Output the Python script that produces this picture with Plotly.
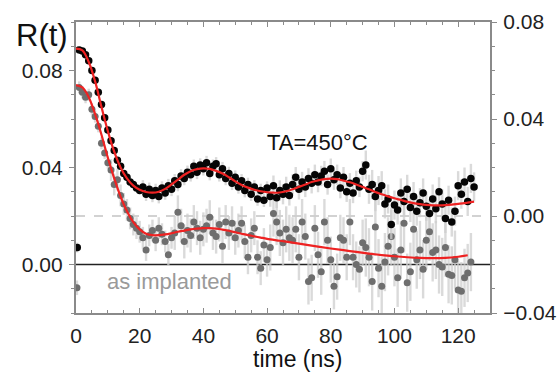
import plotly.graph_objects as go

# ---- data ----
# TA=450°C series (right axis), first point is the stray point at t~0
black_r = [-0.013, 0.0685, 0.068, 0.0665, 0.064, 0.060, 0.056, 0.051, 0.046, 0.0405, 0.0355,
           0.031, 0.027, 0.023, 0.0205, 0.0175, 0.016, 0.014, 0.013, 0.0115, 0.0105,
           0.012, 0.009, 0.011, 0.0085, 0.0105, 0.008, 0.0115, 0.0095, 0.0125, 0.011,
           0.0145, 0.013, 0.0165, 0.0155, 0.018, 0.017, 0.0205, 0.018, 0.021, 0.0195,
           0.022, 0.0175, 0.0205, 0.0215, 0.017, 0.0195, 0.0155, 0.0175, 0.0135, 0.016,
           0.012, 0.0145, 0.0105, 0.013, 0.009, 0.012, 0.007, 0.0105, 0.0065, 0.0115,
           0.008, 0.0125, 0.0075, 0.0105, 0.009, 0.012, 0.0085, 0.013, 0.016, 0.011,
           0.014, 0.012, 0.0155, 0.0135, 0.017, 0.014, 0.0165, 0.0185, 0.013, 0.0195,
           0.015, 0.017, 0.0115, 0.016, 0.010, 0.0135, 0.0095, 0.0145, 0.012, 0.0185,
           0.021, 0.011, 0.013, 0.008, 0.0105, 0.0125, 0.005, 0.007, -0.0035, 0.0045,
           0.0025, 0.0095, 0.006, 0.011, 0.0035, 0.008, 0.002, 0.0055, 0.0095, 0.004,
           0.001, 0.007, 0.003, 0.010, 0.005, -0.001, 0.0065, -0.0025, 0.002, 0.0125,
           0.009, 0.014, 0.006, 0.0155, 0.012]
black_t = [0.4] + list(range(1, len(black_r)))

# as implanted series (left axis)
gray_l = [-0.0096, 0.073, 0.071, 0.069, 0.070, 0.064, 0.061, 0.057, 0.050, 0.046, 0.042,
          0.039, 0.033, 0.035, 0.0285, 0.025, 0.0225, 0.019, 0.0165, 0.015, 0.0135,
          0.011, 0.006, 0.012, 0.014, 0.010, 0.015, 0.0125, 0.0095, 0.004, 0.011,
          0.013, 0.0215, 0.016, 0.0095, 0.014, 0.012, 0.0175, 0.015, 0.011, 0.0145,
          0.016, 0.0195, 0.013, 0.0115, 0.0165, 0.0075, 0.0175, 0.013, 0.017, 0.011,
          0.014, 0.017, 0.0095, 0.003, 0.012, 0.015, 0.003, -0.0015, 0.008, 0.002,
          0.007, 0.021, 0.0175, 0.013, 0.009, 0.0145, 0.011, 0.010, 0.0145, 0.003,
          0.0175, 0.0115, -0.007, -0.0055, 0.015, 0.004, -0.003, 0.0175, 0.010, 0.002,
          -0.009, -0.005, 0.011, 0.010, 0.003, 0.0175, 0.003, 0.000, -0.002, 0.009,
          0.007, 0.003, -0.007, 0.0155, -0.0015, -0.009, 0.001, 0.0075, 0.0115, 0.003,
          -0.0055, 0.006, 0.017, -0.0075, -0.003, 0.0145, 0.002, 0.006, -0.002, 0.010,
          0.0135, 0.005, 0.006, 0.000, -0.001, 0.007, -0.004, -0.0045, 0.002, -0.0105,
          -0.011, -0.0055, -0.0035, 0.001]
gray_t = [0.3] + list(range(1, len(gray_l)))

# error bar sizes per time segment (segment end time, error)
black_err_seg = [(0.5, 0.002), (20, 0.0012), (60, 0.0028), (90, 0.0042), (130, 0.006)]
gray_err_seg = [(0.5, 0.003), (10, 0.0025), (30, 0.0045), (60, 0.007), (90, 0.0095), (130, 0.012)]

# fit curves
black_fit_t = [0, 2, 4, 6, 8, 10, 12, 14, 16, 18, 20, 22, 24, 26, 28, 30, 32, 34, 36, 38, 40,
               42, 44, 46, 48, 50, 52, 54, 56, 58, 60, 62, 64, 66, 68, 70, 72, 74, 76, 78,
               80, 82, 84, 86, 88, 90, 92, 94, 96, 98, 100, 102, 104, 106, 108, 110, 112,
               114, 116, 118, 120, 122, 124, 125]
black_fit_r = [0.069, 0.0683, 0.0635, 0.0555, 0.045, 0.035, 0.0265, 0.020, 0.0155, 0.0125,
               0.0108, 0.0099, 0.0096, 0.0100, 0.0112, 0.013, 0.015, 0.017, 0.0185, 0.0193,
               0.0196, 0.0194, 0.0186, 0.0175, 0.016, 0.0143, 0.0128, 0.0117, 0.0108,
               0.0102, 0.0098, 0.0096, 0.0097, 0.0102, 0.011, 0.012, 0.013, 0.014, 0.0147,
               0.0152, 0.0154, 0.0152, 0.0146, 0.0139, 0.013, 0.012, 0.011, 0.0099, 0.009,
               0.0081, 0.0073, 0.0066, 0.0059, 0.0053, 0.0049, 0.0046, 0.0044, 0.0044,
               0.0045, 0.0047, 0.005, 0.0053, 0.0057, 0.0059]
gray_fit_t = [0, 2, 4, 6, 8, 10, 12, 14, 16, 18, 20, 22, 24, 26, 28, 30, 32, 34, 36, 38, 40,
              42, 44, 46, 48, 50, 52, 54, 56, 58, 60, 64, 68, 72, 76, 80, 84, 88, 92, 96,
              100, 104, 108, 112, 116, 120, 123]
gray_fit_l = [0.074, 0.073, 0.069, 0.062, 0.0535, 0.044, 0.0355, 0.028, 0.022, 0.0175,
              0.0145, 0.0127, 0.0121, 0.0121, 0.0124, 0.0129, 0.0135, 0.014, 0.0145,
              0.0148, 0.015, 0.015, 0.0148, 0.0144, 0.0139, 0.0133, 0.0127, 0.0121,
              0.0116, 0.0111, 0.0106, 0.0098, 0.009, 0.0082, 0.0074, 0.0066, 0.0059,
              0.0052, 0.0045, 0.0039, 0.0034, 0.003, 0.0027, 0.0026, 0.0027, 0.0032, 0.0038]


def seg_errors(ts, segs):
    out = []
    for t in ts:
        for end, e in segs:
            if t <= end:
                out.append(e)
                break
    return out


FONT = "Liberation Sans, Arial, sans-serif"
ERR_COL = "rgba(205,205,205,0.75)"
AXIS_COL = "#8a8a8a"

fig = go.Figure()

fig.add_trace(go.Scatter(
    x=gray_t, y=gray_l, mode="markers", yaxis="y",
    marker=dict(size=7, color="#6e6e6e"),
    error_y=dict(type="data", array=seg_errors(gray_t, gray_err_seg), color=ERR_COL,
                 thickness=2.4, width=0),
    showlegend=False))
fig.add_trace(go.Scatter(
    x=black_t, y=black_r, mode="markers", yaxis="y2",
    marker=dict(size=7.5, color="#050505"),
    error_y=dict(type="data", array=seg_errors(black_t, black_err_seg), color=ERR_COL,
                 thickness=2.4, width=0),
    showlegend=False))
fig.add_trace(go.Scatter(
    x=gray_fit_t, y=gray_fit_l, mode="lines", yaxis="y", line_shape="spline",
    line=dict(color="#ee2222", width=2.2), showlegend=False))
fig.add_trace(go.Scatter(
    x=black_fit_t, y=black_fit_r, mode="lines", yaxis="y2", line_shape="spline",
    line=dict(color="#ee2222", width=2.2), showlegend=False))

fig.add_shape(type="line", xref="paper", x0=0, x1=1, yref="y", y0=0, y1=0,
              line=dict(color="#222222", width=1.3), layer="below")
fig.add_shape(type="line", xref="paper", x0=0, x1=1, yref="y2", y0=0, y1=0,
              line=dict(color="#c4c4c4", width=1.6, dash="dash"), layer="below")

tickfont = dict(family=FONT, size=21, color="#222222")

fig.update_layout(
    width=557, height=378,
    margin=dict(l=76, r=67, t=22, b=65, autoexpand=False),
    paper_bgcolor="white", plot_bgcolor="white",
    xaxis=dict(range=[0, 130], tickvals=[0, 20, 40, 60, 80, 100, 120], automargin=False,
               ticks="inside", ticklen=5, tickwidth=1.3, tickcolor=AXIS_COL,
               minor=dict(dtick=5, tick0=0, ticks="inside", ticklen=3, tickcolor=AXIS_COL),
               showline=True, linecolor=AXIS_COL, linewidth=2.2, mirror="ticks",
               showgrid=False, zeroline=False, tickfont=tickfont, ticklabelstandoff=3),
    yaxis=dict(range=[-0.02, 0.1], tickvals=[0, 0.04, 0.08], tickformat=".2f", automargin=False,
               ticks="outside", ticklen=5, tickwidth=1.3, tickcolor=AXIS_COL,
               minor=dict(dtick=0.01, tick0=0, ticks="outside", ticklen=3, tickcolor=AXIS_COL),
               showline=True, linecolor=AXIS_COL, linewidth=2.2,
               showgrid=False, zeroline=False, tickfont=tickfont, ticklabelstandoff=2),
    yaxis2=dict(range=[-0.04, 0.08], tickvals=[-0.04, 0, 0.04, 0.08], tickformat=".2f",
                overlaying="y", side="right", automargin=False,
                ticks="outside", ticklen=5, tickwidth=1.3, tickcolor=AXIS_COL,
                minor=dict(dtick=0.01, tick0=0, ticks="outside", ticklen=3, tickcolor=AXIS_COL),
                showline=True, linecolor=AXIS_COL, linewidth=2.2,
                showgrid=False, zeroline=False, tickfont=tickfont, ticklabelstandoff=2),
    annotations=[
        dict(text="R(t)", xref="paper", yref="paper", x=-0.082, y=0.952, xanchor="center",
             yanchor="middle", showarrow=False, font=dict(family=FONT, size=31, color="#111")),
        dict(text="TA=450°C", xref="x", yref="y2", x=75.7, y=0.0305, xanchor="center",
             yanchor="middle", showarrow=False, font=dict(family=FONT, size=22, color="#111")),
        dict(text="as implanted", xref="x", yref="y", x=29.5, y=-0.0071, xanchor="center",
             yanchor="middle", showarrow=False, font=dict(family=FONT, size=22, color="#9a9a9a")),
        dict(text="time (ns)", xref="paper", yref="paper", x=0.534, y=-0.158, xanchor="center",
             yanchor="middle", showarrow=False, font=dict(family=FONT, size=23, color="#111")),
    ],
)

fig.write_html("out.html", config={"displayModeBar": False},
               post_script="document.body.style.margin='0';document.body.style.padding='0';")
